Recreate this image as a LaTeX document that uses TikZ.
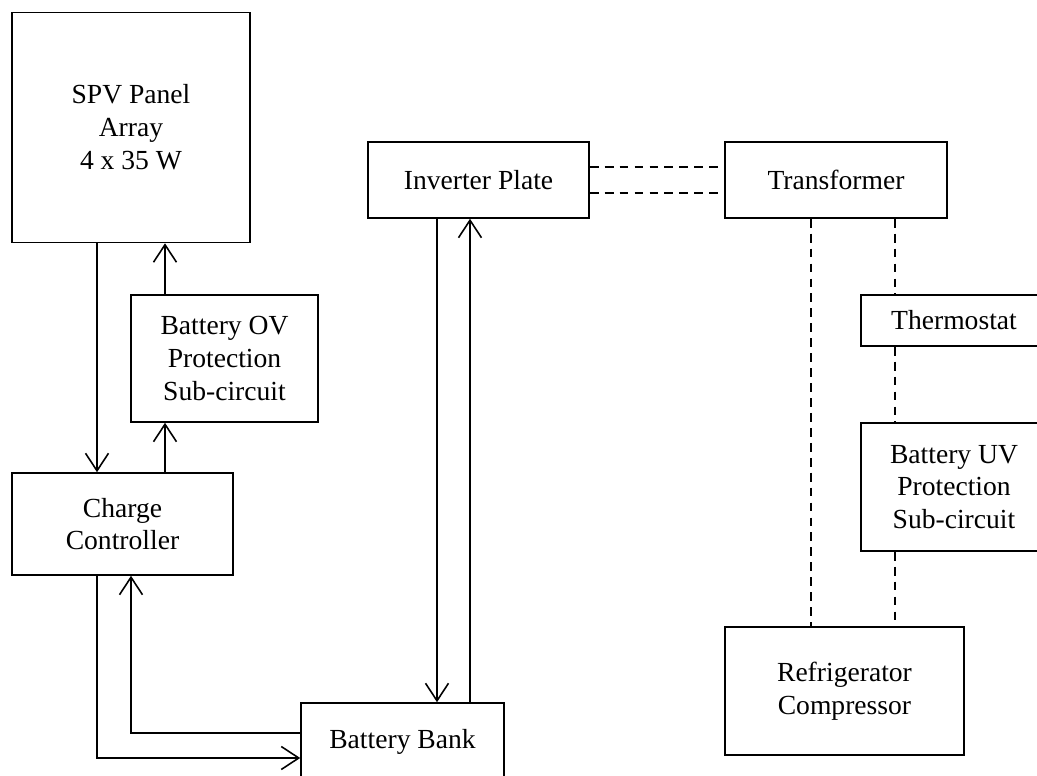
\documentclass[tikz,border=0pt]{standalone}
\usepackage{fontspec}
\setmainfont{Liberation Serif}
\usetikzlibrary{arrows.meta}

\begin{document}
\begin{tikzpicture}[>={Straight Barb[length=3.5mm,width=4.6mm]}, line width=0.9pt,
    block/.style={draw, align=center, inner sep=0pt, font=\fontsize{15.7}{18.7}\selectfont},
    link/.style={dash pattern=on 5pt off 3.5pt}]

  \useasboundingbox (0,0) rectangle (20.74,15.52);

  \node (spv) at (2.62,12.97) [block, minimum width=4.76cm, minimum height=4.60cm] {SPV Panel\\Array\\4 x 35 W};
  \node (ov) at (4.49,8.35) [block, minimum width=3.74cm, minimum height=2.54cm] {Battery OV\\Protection\\Sub-circuit};
  \node (cc) at (2.45,5.04) [block, minimum width=4.42cm, minimum height=2.04cm] {Charge\\Controller};
  \node (bb) at (8.05,0.68) [block, minimum width=4.06cm, minimum height=1.56cm] {Battery Bank};
  \node (inv) at (9.57,11.92) [block, minimum width=4.42cm, minimum height=1.52cm] {Inverter Plate};
  \node (trans) at (16.72,11.92) [block, minimum width=4.44cm, minimum height=1.52cm] {Transformer};
  \node (thermo) at (19.08,9.11) [block, minimum width=3.72cm, minimum height=1.02cm] {Thermostat};
  \node (uv) at (19.08,5.78) [block, minimum width=3.72cm, minimum height=2.56cm] {Battery UV\\Protection\\Sub-circuit};
  \node (fridge) at (16.89,1.70) [block, minimum width=4.78cm, minimum height=2.56cm] {Refrigerator\\Compressor};

  % charging side
  \draw [->] ([xshift=-0.68cm]spv.south) -- ([xshift=-0.68cm]spv.south |- cc.north);
  \draw [->] ([xshift=-1.19cm]ov.south |- cc.north) -- ([xshift=-1.19cm]ov.south);
  \draw [->] ([xshift=-1.19cm]ov.north) -- ([xshift=-1.19cm]ov.north |- spv.south);
  \draw [->] ([xshift=-0.51cm]cc.south) |- ([yshift=-0.32cm]bb.west);
  \draw [->] ([yshift=0.18cm]bb.west) -| ([xshift=0.17cm]cc.south);

  % battery and inverter
  \draw [->] ([xshift=-0.83cm]inv.south) -- ([xshift=-0.83cm]inv.south |- bb.north);
  \draw [->] ([xshift=-0.17cm]inv.south |- bb.north) -- ([xshift=-0.17cm]inv.south);

  % load side
  \draw [link] ([yshift=0.26cm]inv.east) -- ([yshift=0.26cm]inv.east -| trans.west);
  \draw [link] ([yshift=-0.26cm]inv.east) -- ([yshift=-0.26cm]inv.east -| trans.west);
  \draw [link] ([xshift=-0.5cm]trans.south) -- ([xshift=-0.5cm]trans.south |- fridge.north);
  \draw [link] ([xshift=1.18cm]trans.south) -- ([xshift=1.18cm]trans.south |- thermo.north);
  \draw [link] ([xshift=1.18cm]trans.south |- thermo.south) -- ([xshift=1.18cm]trans.south |- uv.north);
  \draw [link] ([xshift=1.18cm]trans.south |- uv.south) -- ([xshift=1.18cm]trans.south |- fridge.north);

\end{tikzpicture}
\end{document}
